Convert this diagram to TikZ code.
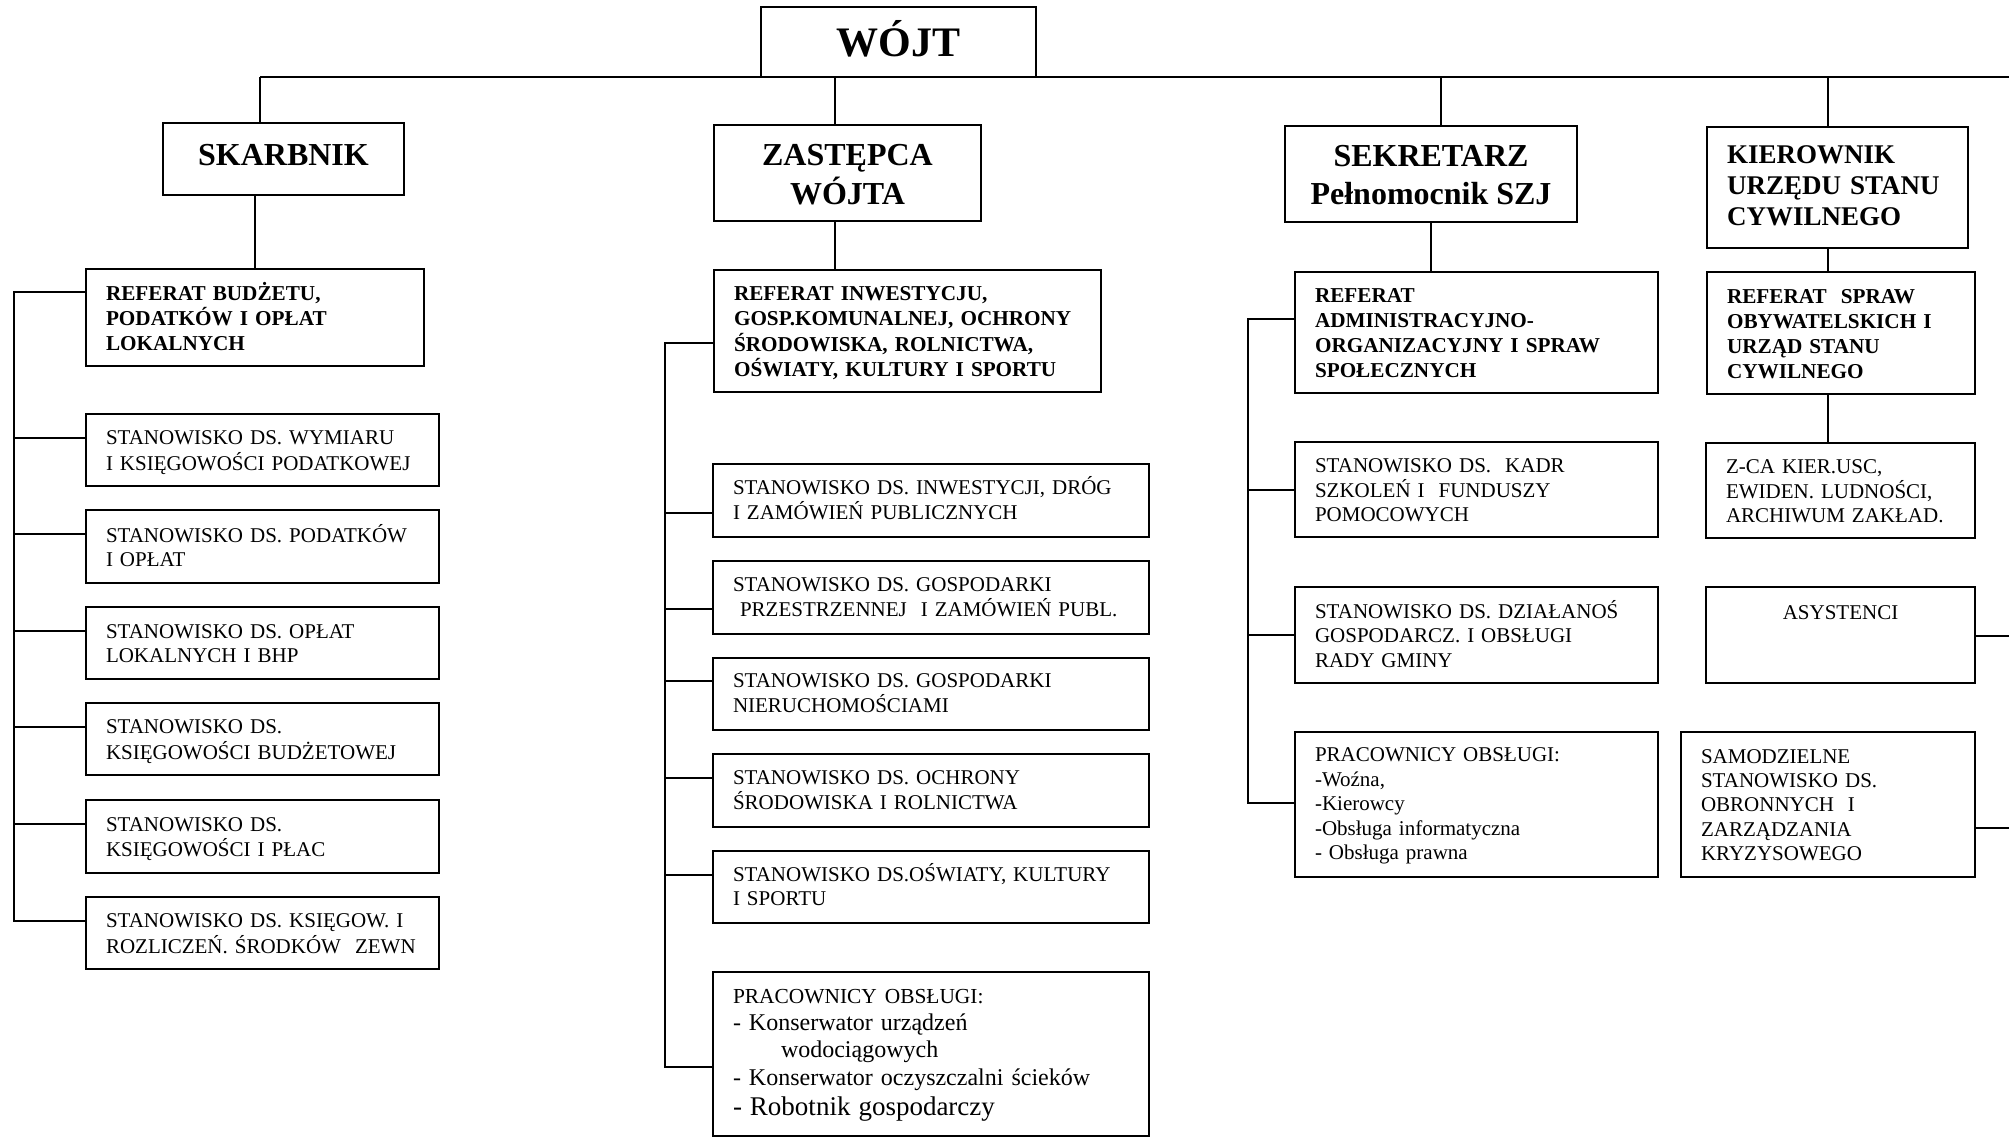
\documentclass[tikz,border=0pt]{standalone}
\usepackage{fontspec}
\setmainfont{Liberation Serif}
\newcommand\lbox[8]{%
  \pgfmathsetmacro\bxw{(#4-#2)*0.5}%
  \pgfmathsetmacro\bxh{(#5-#3)*0.5}%
  \pgfmathsetmacro\bxt{(#4-#2)*0.5-20}%
  \node[bx,#6,align=left,text width=\bxt pt,minimum width=\bxw pt,minimum height=\bxh pt] (#1) at (#2,#3) {\raisebox{#8}[\height][\depth]{\begin{tabular}{@{}l@{}}#7\end{tabular}}};%
}
\newcommand\cbox[8]{%
  \pgfmathsetmacro\bxw{(#4-#2)*0.5}%
  \pgfmathsetmacro\bxh{(#5-#3)*0.5}%
  \node[bx,#6,align=center,minimum width=\bxw pt,minimum height=\bxh pt] (#1) at (#2,#3) {\raisebox{#8}[\height][\depth]{\begin{tabular}{@{}c@{}}#7\end{tabular}}};%
}
\tikzset{
  bx/.style={draw, line width=1.2pt, inner xsep=10pt, inner ysep=0pt, outer sep=0pt, anchor=north west},
  conn/.style={line width=0.9pt},
  fwojt/.style={font=\fontsize{21}{24}\selectfont\bfseries},
  fhead/.style={font=\fontsize{16}{19}\selectfont\bfseries},
  fkier/.style={font=\fontsize{13.5}{15.4}\selectfont\bfseries},
  fref/.style={font=\fontsize{10.6}{12.5}\selectfont\bfseries},
  fst/.style={font=\fontsize{10.5}{12.2}\selectfont},
  fprac/.style={font=\fontsize{12}{13.6}\selectfont},
}
\begin{document}
\begin{tikzpicture}[x=0.5pt,y=-0.5pt]
\fill[white] (0,0) rectangle (2009,1138);
\useasboundingbox (0,0) rectangle (2009,1138);

% top level
\cbox{wojt}{761}{7}{1036}{77}{fwojt}{WÓJT}{-1.9pt}
\cbox{skarbnik}{163}{123}{404}{195}{fhead}{SKARBNIK}{0.6pt}
\cbox{zastepca}{714}{125}{981}{221}{fhead}{ZASTĘPCA\\WÓJTA}{-2pt}
\cbox{sekretarz}{1285}{126}{1577}{222}{fhead}{SEKRETARZ\\Pełnomocnik SZJ}{-2pt}
\lbox{kierownik}{1707}{127}{1968}{248}{fkier}{KIEROWNIK\\URZĘDU STANU\\CYWILNEGO}{-0.4pt}

% referaty
\lbox{refBud}{86}{269}{424}{366}{fref}{REFERAT BUDŻETU,\\PODATKÓW I OPŁAT\\LOKALNYCH}{-1.3pt}
\lbox{refInw}{714}{270}{1101}{392}{fref}{REFERAT INWESTYCJU,\\GOSP.KOMUNALNEJ, OCHRONY\\ŚRODOWISKA, ROLNICTWA,\\OŚWIATY, KULTURY I SPORTU}{-1.3pt}
\lbox{refAdm}{1295}{272}{1658}{393}{fref}{REFERAT\\ADMINISTRACYJNO-\\ORGANIZACYJNY I SPRAW\\SPOŁECZNYCH}{-1.3pt}
\lbox{refSpr}{1707}{272}{1975}{394}{fref}{REFERAT\ \ SPRAW\\OBYWATELSKICH I\\URZĄD STANU\\CYWILNEGO}{-1.3pt}

% skarbnik column
\lbox{s1}{86}{414}{439}{486}{fst}{STANOWISKO DS. WYMIARU\\I KSIĘGOWOŚCI PODATKOWEJ}{-1.3pt}
\lbox{s2}{86}{510}{439}{583}{fst}{STANOWISKO DS. PODATKÓW\\I OPŁAT}{-1.3pt}
\lbox{s3}{86}{607}{439}{679}{fst}{STANOWISKO DS. OPŁAT\\LOKALNYCH I BHP}{-1.3pt}
\lbox{s4}{86}{703}{439}{775}{fst}{STANOWISKO DS.\\KSIĘGOWOŚCI BUDŻETOWEJ}{-1.3pt}
\lbox{s5}{86}{800}{439}{873}{fst}{STANOWISKO DS.\\KSIĘGOWOŚCI I PŁAC}{-1.3pt}
\lbox{s6}{86}{897}{439}{969}{fst}{STANOWISKO DS. KSIĘGOW. I\\ROZLICZEŃ. ŚRODKÓW\ \ ZEWN}{-1.3pt}

% zastepca column
\lbox{z1}{713}{464}{1149}{537}{fst}{STANOWISKO DS. INWESTYCJI, DRÓG\\I ZAMÓWIEŃ PUBLICZNYCH}{-0.7pt}
\lbox{z2}{713}{561}{1149}{634}{fst}{STANOWISKO DS. GOSPODARKI\\\ PRZESTRZENNEJ\ \ I ZAMÓWIEŃ PUBL.}{-0.7pt}
\lbox{z3}{713}{658}{1149}{730}{fst}{STANOWISKO DS. GOSPODARKI\\NIERUCHOMOŚCIAMI}{-0.7pt}
\lbox{z4}{713}{754}{1149}{827}{fst}{STANOWISKO DS. OCHRONY\\ŚRODOWISKA I ROLNICTWA}{-0.7pt}
\lbox{z5}{713}{851}{1149}{923}{fst}{STANOWISKO DS.OŚWIATY, KULTURY\\I SPORTU}{-0.7pt}
\lbox{z6}{713}{972}{1149}{1136}{fprac}{{\fontsize{10.7}{12}\selectfont PRACOWNICY OBSŁUGI:}\\- Konserwator urządzeń\\\hspace*{24pt}wodociągowych\\- Konserwator oczyszczalni ścieków\\[1.5pt]{\fontsize{13.5}{15}\selectfont - Robotnik gospodarczy}}{0pt}

% sekretarz column
\lbox{k1}{1295}{442}{1658}{537}{fst}{STANOWISKO DS.\ \ KADR\\SZKOLEŃ I\ \ FUNDUSZY\\POMOCOWYCH}{-1.3pt}
\lbox{k2}{1295}{587}{1658}{683}{fst}{STANOWISKO DS. DZIAŁANOŚ\\GOSPODARCZ. I OBSŁUGI\\RADY GMINY}{-1.3pt}
\lbox{k3}{1295}{732}{1658}{877}{fst}{PRACOWNICY OBSŁUGI:\\-Woźna,\\-Kierowcy\\-Obsługa informatyczna\\- Obsługa prawna}{-0.7pt}

% kierownik column
\lbox{u1}{1706}{443}{1975}{538}{fst}{Z-CA KIER.USC,\\EWIDEN. LUDNOŚCI,\\ARCHIWUM ZAKŁAD.}{-1.3pt}
\cbox{u2}{1706}{587}{1975}{683}{fst}{ASYSTENCI\\ \\ \mbox{}}{-2pt}
\lbox{u3}{1681}{732}{1975}{877}{fst}{SAMODZIELNE\\STANOWISKO DS.\\OBRONNYCH\ \ I\\ZARZĄDZANIA\\KRYZYSOWEGO}{-1.3pt}

% top line and verticals
\coordinate (tL) at (260,77);
\coordinate (tR) at (2009,77);
\coordinate (t2) at (835,77);
\coordinate (t3) at (1441,77);
\coordinate (t4) at (1828,77);
\draw[conn] (tL) -- (wojt.south) -- (tR);
\draw[conn] (tL) -- (tL |- skarbnik.north);
\draw[conn] (t2) -- (t2 |- zastepca.north);
\draw[conn] (t3) -- (t3 |- sekretarz.north);
\draw[conn] (t4) -- (t4 |- kierownik.north);

\draw[conn] (skarbnik.south -| refBud.north) -- (refBud.north);
\draw[conn] (t2 |- zastepca.south) -- (t2 |- refInw.north);
\draw[conn] (sekretarz.south) -- (sekretarz.south |- refAdm.north);
\draw[conn] (t4 |- kierownik.south) -- (t4 |- refSpr.north);
\draw[conn] (t4 |- refSpr.south) -- (t4 |- u1.north);

% skarbnik bus
\coordinate (bA0) at (14,292);
\coordinate (bA6) at (14,921);
\draw[conn] (refBud.west |- bA0) -- (bA0) -- (bA6) -- (s6.west |- bA6);
\foreach \n/\yy in {s1/438,s2/534,s3/631,s4/727,s5/824}{
  \coordinate (c\n) at (14,\yy);
  \draw[conn] (c\n) -- (c\n -| \n.west);
}

% zastepca bus
\coordinate (bB0) at (665,343);
\coordinate (bB6) at (665,1067);
\draw[conn] (refInw.west |- bB0) -- (bB0) -- (bB6) -- (z6.west |- bB6);
\foreach \n/\yy in {z1/513,z2/609,z3/681,z4/778,z5/875}{
  \coordinate (c\n) at (665,\yy);
  \draw[conn] (c\n) -- (c\n -| \n.west);
}

% sekretarz bus
\coordinate (bC0) at (1248,319);
\coordinate (bC3) at (1248,803);
\draw[conn] (refAdm.west |- bC0) -- (bC0) -- (bC3) -- (k3.west |- bC3);
\foreach \n/\yy in {k1/490,k2/635}{
  \coordinate (c\n) at (1248,\yy);
  \draw[conn] (c\n) -- (c\n -| \n.west);
}

% right stubs
\coordinate (rA) at (2009,636);
\coordinate (rB) at (2009,828);
\draw[conn] (u2.east |- rA) -- (rA);
\draw[conn] (u3.east |- rB) -- (rB);
\end{tikzpicture}
\end{document}
